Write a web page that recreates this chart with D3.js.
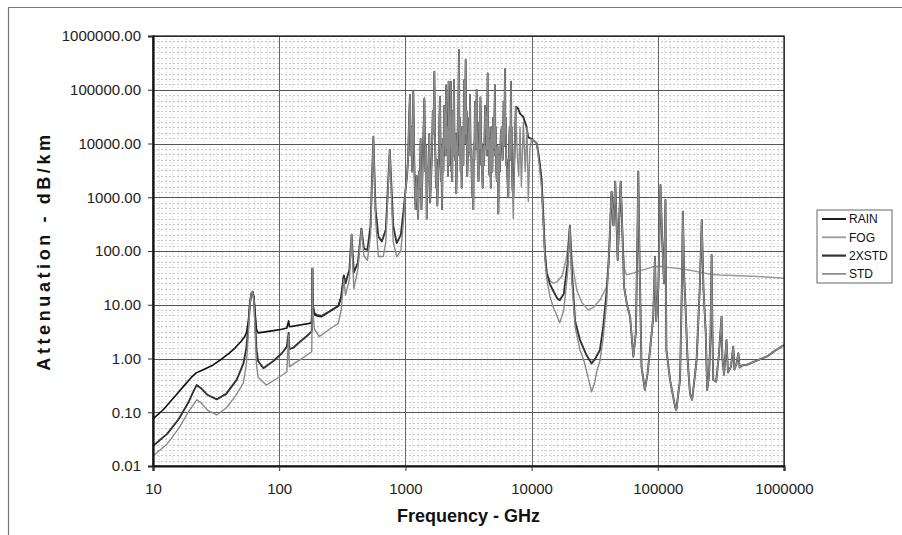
<!DOCTYPE html>
<html lang="en">
<head>
  <meta charset="UTF-8">
  <title>Attenuation vs Frequency</title>
  <style>
    body { margin: 0; background: #fff; }
    text { font-family: Arial, "Liberation Sans", sans-serif; }
  </style>
</head>
<body>

<svg width="902" height="535"></svg>
<script src="https://d3js.org/d3.v7.min.js"></script>

<script>
  // ---- data: [frequency GHz, attenuation dB/km] ----
  var xTicks = [10, 100, 1000, 10000, 100000, 1000000];
  var yTicks = [0.01, 0.1, 1, 10, 100, 1000, 10000, 100000, 1000000];
  var seriesNames = ["RAIN", "FOG", "2XSTD", "STD"];

  var rainLow = [[10,0.075],[12,0.11],[15,0.2],[18,0.33],[20,0.44],[22,0.54],[25,0.62],[30,0.76],[35,0.98],[40,1.25],
    [45,1.6],[50,2.1],[53,2.5],[55,3],[57,5],[58.5,10],[60,16],[61.5,17.5],[63,14],[64.5,7],[66,3.5],[68,3.0],
    [75,3.1],[90,3.3],[105,3.5],[115,3.7],[118.7,5.0],[120.5,3.9],[130,4.0],[146,4.2],[165,4.4],[180,4.6],
    [182.3,9],[183.3,47],[184.5,10],[190,6.5],[200,6.2],[217,6.0],[250,7.5],[294,9.5],[310,14],[325,35],[335,25]];

  var x2stdLow = [[10,0.0236],[13,0.04],[16,0.075],[19,0.15],[21,0.25],[22.2,0.32],[24,0.28],[27,0.21],[32,0.174],
    [38,0.22],[46,0.4],[52,0.8],[55,1.6],[57,4],[58.5,10],[60,16],[61.5,17.5],[63,13],[64.5,5],[66,1.5],[68,0.9],
    [75,0.66],[90,0.9],[105,1.25],[115,1.66],[118.7,2.98],[120.5,1.5],[130,1.6],[146,2.05],[165,2.6],[181,3.2],
    [182.5,8],[183.3,47],[184.5,10],[190,7],[198,6.5],[217,6.2],[250,7.5],[294,9.5],[310,14],[325,35],[335,25],
    [360,45],[375,200],[390,40],[420,60],[448,260],[470,110],[500,105],[530,300],[557,13400],[580,600],[611,185],
    [650,150],[700,250],[752,7600],[800,300],[853,140],[920,200],[970,600],[1000,1300]];

  var stdLow = [[10,0.0153],[13,0.026],[16,0.05],[19,0.1],[21,0.14],[22.2,0.17],[24,0.15],[27,0.11],[32,0.089],
    [38,0.12],[45,0.2],[52,0.35],[55,0.8],[57,3],[58.5,9],[60,16],[61.5,17.5],[63,12],[64.5,3],[66,0.8],[68,0.45],
    [79,0.32],[95,0.42],[110,0.52],[115,0.57],[118.7,2.7],[120.5,0.7],[130,0.8],[146,0.94],[165,1.15],[181,1.34],
    [182.5,6],[183.3,47],[184.5,8],[190,3.5],[208,2.55],[250,3.5],[294,4.5],[310,8],[325,30],[335,15],[360,30],
    [375,200],[390,20],[420,45],[448,250],[470,80],[500,67],[530,200],[557,13400],[580,400],[611,79],[668,79],
    [700,150],[752,7600],[800,150],[853,79],[920,100],[970,400],[1000,1300]];

  // water vapour band, where the curves lie on top of each other
  var band = [[1030,2500],[1050,5000],[1070,30000],[1087,80000],[1100,6000],[1115,20000],[1130,3000],[1155,92000],
    [1175,5000],[1190,1200],[1205,600],[1228,2500],[1245,900],[1260,400],[1280,3000],[1300,1500],[1320,12000],
    [1340,600],[1360,2000],[1380,8000],[1413,69000],[1440,3000],[1460,9000],[1476,400],[1500,3000],[1520,2000],
    [1545,15000],[1568,800],[1600,2500],[1620,6000],[1650,40000],[1670,15000],[1696,217000],[1720,10000],
    [1750,1500],[1770,5000],[1790,700],[1820,3000],[1840,5000],[1860,30000],[1881,74000],[1910,2000],[1930,8000],
    [1950,600],[1980,12000],[2000,3000],[2030,50000],[2050,20000],[2075,6000],[2100,120000],[2125,8000],
    [2150,20000],[2175,2500],[2200,141000],[2230,4000],[2260,15000],[2296,141000],[2315,3000],[2330,10000],
    [2350,2000],[2370,40000],[2400,6000],[2426,152000],[2450,8000],[2480,5000],[2510,15000],[2530,1200],
    [2560,4000],[2600,20000],[2630,60000],[2659,550000],[2680,6000],[2700,30000],[2720,9000],[2740,3000],
    [2765,20000],[2790,1500],[2820,5000],[2850,20000],[2880,4000],[2920,150000],[2960,10000],[3004,357000],
    [3030,15000],[3060,40000],[3090,2500],[3120,5000],[3160,12000],[3200,30000],[3225,7000],[3250,80000],
    [3285,6000],[3320,8000],[3360,2000],[3400,1000],[3425,5000],[3452,600],[3485,10000],[3520,5000],
    [3560,60000],[3600,40000],[3635,8000],[3670,99000],[3700,15000],[3720,10000],[3760,3000],[3800,2000],
    [3850,25000],[3900,8000],[3930,72000],[3960,30000],[3990,4000],[4020,10000],[4060,2500],[4100,1500],
    [4150,9000],[4200,4000],[4280,50000],[4350,30000],[4420,6000],[4487,202000],[4520,8000],[4560,20000],
    [4600,3000],[4650,2500],[4700,12000],[4750,1500],[4790,20000],[4826,8000],[4880,3000],[4950,30000],
    [5030,8000],[5128,122000],[5160,6000],[5200,20000],[5250,3000],[5300,2000],[5370,9000],[5450,500],
    [5520,6000],[5600,3000],[5700,15000],[5800,20000],[5900,5000],[6000,60000],[6080,9000],[6152,240000],
    [6200,15000],[6250,30000],[6300,4000],[6350,5000],[6450,2000],[6537,1000],[6620,8000],[6700,20000],
    [6780,5000],[6870,141000],[6910,8000],[6950,20000],[7000,4000],[7050,1500]];

  var x2stdTail = [[7165,1000],[7300,5000],[7500,48000],[7800,45000],[8100,36000],[8400,33000],[8600,31600],
    [8800,26000],[9100,21000],[9400,13000],[9800,12500],[10650,10800],[11000,10000],[11500,5000],[12000,2100],
    [12400,400],[12760,91],[13200,38.5]];

  var stdTail = [[7165,400],[7300,5000],[7500,48000],[7700,6000],[7900,2500],[8100,20000],[8300,1570],[8600,25000],
    [8900,3000],[9200,20000],[9413,830],[9700,8000],[10000,12000],[10650,10800],[11000,10000],[11500,4000],
    [12000,1500],[12400,300],[12760,70],[13200,30]];

  var x2stdHigh = [[14000,24],[14860,18],[16000,13],[16700,12.2],[18000,16],[19300,60],[20100,290],[20800,45],
    [22100,5],[24200,2.2],[27000,1.2],[29900,0.81],[32000,1.0],[34800,1.44],[37000,4],[39400,18.8]];

  var stdHigh = [[14000,14],[14860,9],[16000,6],[16700,4.6],[18000,8],[19300,40],[20100,280],[20800,30],
    [22100,3.9],[24200,1.44],[26000,0.9],[28000,0.45],[29900,0.24],[31500,0.35],[33000,0.6],[34800,0.9],
    [37000,2.5],[39400,12]];

  // infrared lines, shared by STD and 2XSTD
  var ir = [[41000,80],[43000,1270],[44500,300],[46000,1945],[48100,68],[50800,1945],[52500,200],[54000,21.7],
    [57000,10],[60300,6.0],[64000,1.08],[67000,3],[69000,200],[70000,2990],[71500,100],[74300,0.7],[79000,0.26],
    [83000,0.53],[88000,2],[92000,6],[95000,78],[97000,5],[101000,20],[105000,1690],[108000,200],[112000,25],
    [115000,890],[117000,1.44],[125000,0.4],[137000,0.127],[140000,0.11],[150000,0.4],[155000,20],[158000,540],
    [162000,30],[165000,12.2],[172000,1],[180000,0.22],[187000,0.17],[195000,0.4],[203000,0.94],[215000,20],
    [223000,378],[230000,20],[240000,2.9],[246000,0.26],[255000,0.5],[262000,3],[267000,84],[271000,3],
    [275000,0.4],[290000,0.37],[305000,1.2],[320000,6.0],[325000,1],[335000,0.5],[350000,2.2],[360000,0.55],
    [380000,0.7],[396000,1.66],[405000,0.62],[420000,0.8],[435000,1.25],[445000,0.68],[470000,0.75],
    [506000,0.76],[600000,0.9],[728000,1.08],[850000,1.4],[1000000,1.78]];

  var fogHigh = [[11000,10000],[11500,5000],[12000,2100],[12400,400],[12760,91],[13200,38.5],[14000,28],
    [14860,25],[16000,27],[17500,35],[19000,80],[20100,305],[21000,60],[22800,18.8],[25000,11],[28100,8.0],
    [31000,9],[34800,12.2],[39400,21.7],[41000,60],[43000,1270],[44500,300],[46000,1945],[48100,68],[50800,1945],
    [52500,200],[54500,45],[56500,36],[62000,38],[70000,42],[80000,46],[92000,51],[105000,52],[117000,50],
    [141000,47.8],[180000,44],[220000,40],[262000,37],[311000,35.7],[450000,34.5],[728000,33],[1000000,31]];

  // ---- chart ----
  var svg = d3.select("svg"),
      margin = {top: 36, right: 118, bottom: 69, left: 153},
      width = +svg.attr("width") - margin.left - margin.right,
      height = +svg.attr("height") - margin.top - margin.bottom;

  var x = d3.scaleLog().domain([10, 1000000]).range([0, width]),
      y = d3.scaleLog().domain([0.01, 1000000]).range([height, 0]);

  var styles = {
    "RAIN":  {stroke: "#111", width: 1.6},
    "FOG":   {stroke: "#999", width: 1.5},
    "2XSTD": {stroke: "#333", width: 1.9},
    "STD":   {stroke: "#8a8a8a", width: 1.4}
  };

  var series = [
    {name: "FOG",   values: fogHigh},
    {name: "RAIN",  values: rainLow},
    {name: "2XSTD", values: x2stdLow.concat(band, x2stdTail, x2stdHigh, ir)},
    {name: "STD",   values: stdLow.concat(band, stdTail, stdHigh, ir)}
  ];

  // outer frame (only top and left edges show in the source)
  svg.append("path")
    .attr("d", "M8.5,535V7.5H902")
    .attr("fill", "none")
    .attr("stroke", "#777")
    .attr("stroke-width", 1.2);

  var g = svg.append("g")
    .attr("transform", "translate(" + margin.left + "," + margin.top + ")");

  // fine dotted grid
  var yMinor = [], xMinor = [];
  d3.range(-2, 6).forEach(function(e) {
    d3.range(1, 10).forEach(function(k) { yMinor.push(Math.pow(10, e + k / 10)); });
  });
  d3.range(1, 6).forEach(function(e) {
    d3.range(1, 20).forEach(function(k) { xMinor.push(Math.pow(10, e + k / 20)); });
  });

  g.append("g").selectAll("line").data(yMinor).enter().append("line")
    .attr("x1", 0).attr("x2", width)
    .attr("y1", function(d) { return Math.round(y(d)) + 0.5; })
    .attr("y2", function(d) { return Math.round(y(d)) + 0.5; })
    .attr("stroke", "#c8c8c8").attr("stroke-dasharray", "2,2");

  g.append("g").selectAll("line").data(xMinor).enter().append("line")
    .attr("y1", 0).attr("y2", height)
    .attr("x1", function(d) { return Math.round(x(d)) + 0.5; })
    .attr("x2", function(d) { return Math.round(x(d)) + 0.5; })
    .attr("stroke", "#d4d4d4").attr("stroke-dasharray", "1,2");

  // major grid
  g.append("g").selectAll("line").data(yTicks).enter().append("line")
    .attr("x1", 0).attr("x2", width)
    .attr("y1", function(d) { return Math.round(y(d)) + 0.5; })
    .attr("y2", function(d) { return Math.round(y(d)) + 0.5; })
    .attr("stroke", "#555").attr("stroke-width", 1.2);

  g.append("g").selectAll("line").data(xTicks).enter().append("line")
    .attr("y1", 0).attr("y2", height)
    .attr("x1", function(d) { return Math.round(x(d)) + 0.5; })
    .attr("x2", function(d) { return Math.round(x(d)) + 0.5; })
    .attr("stroke", "#666").attr("stroke-width", 1);

  // curves
  var line = d3.line()
    .x(function(d) { return x(d[0]); })
    .y(function(d) { return y(d[1]); });

  g.selectAll(".curve")
    .data(series)
    .enter().append("path")
    .attr("class", "curve")
    .attr("fill", "none")
    .attr("stroke", function(d) { return styles[d.name].stroke; })
    .attr("stroke-width", function(d) { return styles[d.name].width; })
    .attr("stroke-linejoin", "round")
    .attr("d", function(d) { return line(d.values); });

  // plot border
  g.append("rect")
    .attr("width", width).attr("height", height)
    .attr("fill", "none").attr("stroke", "#111").attr("stroke-width", 1.2);

  // axes
  var yAxis = g.append("g")
    .call(d3.axisLeft(y).tickValues(yTicks).tickFormat(d3.format(".2f")).tickSize(5).tickPadding(7));
  var xAxis = g.append("g")
    .attr("transform", "translate(0," + height + ")")
    .call(d3.axisBottom(x).tickValues(xTicks).tickFormat(d3.format("d")).tickSize(5).tickPadding(12));

  [xAxis, yAxis].forEach(function(a) {
    a.select(".domain").attr("stroke", "#111").attr("stroke-width", 2.2);
    a.selectAll(".tick line").attr("stroke", "#333");
    a.selectAll(".tick text").attr("font-size", 15).attr("fill", "#222")
      .attr("font-family", "Arial, 'Liberation Sans', sans-serif");
  });

  // axis titles
  svg.append("text")
    .attr("x", margin.left + width / 2)
    .attr("y", 522)
    .attr("text-anchor", "middle")
    .attr("font-size", 18).attr("font-weight", "bold").attr("fill", "#111")
    .text("Frequency - GHz");

  // the source's rotated title is spread out along the axis
  svg.append("text")
    .attr("transform", "translate(50," + (margin.top + height / 2) + ") rotate(-90)")
    .attr("text-anchor", "middle")
    .attr("font-size", 18).attr("font-weight", "bold").attr("fill", "#111")
    .attr("letter-spacing", 3.6)
    .text("Attenuation - dB/km");

  // legend
  var legend = svg.append("g").attr("transform", "translate(817,210)");
  legend.append("rect")
    .attr("width", 75).attr("height", 73)
    .attr("fill", "#fff").attr("stroke", "#666");

  var item = legend.selectAll(".item")
    .data(seriesNames)
    .enter().append("g")
    .attr("class", "item")
    .attr("transform", function(d, i) { return "translate(0," + (9 + i * 18.3) + ")"; });

  item.append("line")
    .attr("x1", 5).attr("x2", 29)
    .attr("stroke", function(d) { return styles[d].stroke; })
    .attr("stroke-width", function(d) { return styles[d].width + 0.3; });

  item.append("text")
    .attr("x", 32).attr("dy", "0.35em")
    .attr("font-size", 12).attr("fill", "#111")
    .text(function(d) { return d; });
</script>

</body>
</html>
